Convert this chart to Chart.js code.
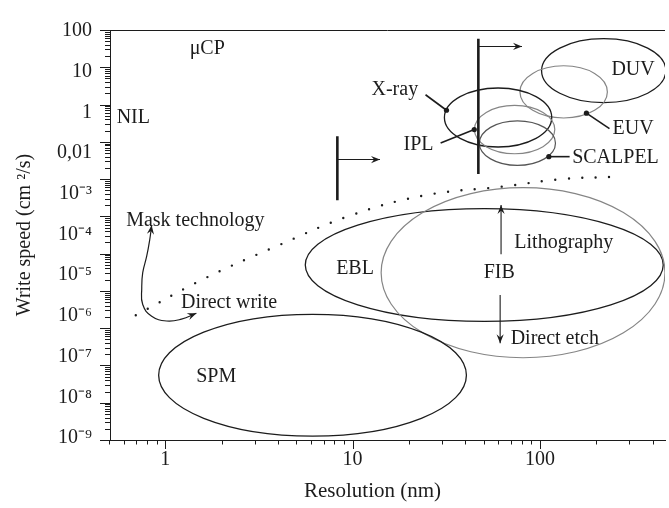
<!DOCTYPE html>
<html>
<head>
<meta charset="utf-8">
<script src="https://cdn.jsdelivr.net/npm/chart.js@4.4.1/dist/chart.umd.min.js"></script>
<style>
html,body{margin:0;padding:0;background:#fff;}
#wrap{position:relative;width:669px;height:508px;}
</style>
</head>
<body>
<div id="wrap"><canvas id="chart"></canvas></div>
<script>
// ---------- axes ----------
const xRange = [0.507, 465];          // Resolution (nm)
const yRange = [1e-9, 100];           // Write speed (cm²/s)
const xTickValues = [1, 10, 100];
const xTickLabels = ['1', '10', '100'];
// the printed labels sit at evenly spaced heights in the original figure
const yTickValues = [94.2, 7.62, 0.616, 0.0498, 4.03e-3, 3.26e-4, 2.64e-5, 2.13e-6, 1.73e-7, 1.40e-8, 1.13e-9];
const yTickLabels = ['100', '10', '1', '0,01', '10⁻³', '10⁻⁴', '10⁻⁵', '10⁻⁶', '10⁻⁷', '10⁻⁸', '10⁻⁹'];

// ---------- technology regions (bounding boxes: nm, cm²/s) ----------
const regionNames = ['DUV', 'EUV', 'X-ray', 'IPL', 'SCALPEL', 'EBL', 'FIB', 'SPM'];
const regionXMin = [102, 78.2, 30.9, 44.7, 47.5, 5.59, 14.2, 0.922];
const regionXMax = [470, 229, 115.6, 120, 121, 455, 465, 40.5];
const regionYMin = [1.13, 0.436, 0.0726, 0.0479, 0.0233, 1.53e-6, 1.61e-7, 1.27e-9];
const regionYMax = [58.4, 10.97, 2.78, 0.948, 0.365, 1.62e-3, 5.91e-3, 2.36e-6];
const regionShade = ['black', 'gray', 'black', 'gray', 'dark', 'black', 'gray', 'black'];

// ---------- dotted boundary: mask technology / direct write ----------
const boundaryX = [0.696, 1.62, 3.99, 9.71, 24.3, 62.8, 134, 240];
const boundaryY = [2.23e-6, 2.15e-5, 1.64e-4, 1.05e-3, 3.67e-3, 6.28e-3, 0.0101, 0.0114];

// ---------- curved double arrow ----------
const curveX = [0.846, 0.826, 0.796, 0.758, 0.749, 0.758, 0.846, 1.016, 1.22, 1.466];
const curveY = [5.75e-4, 2.35e-4, 8.51e-5, 3.08e-5, 1.19e-5, 4.30e-6, 2.10e-6, 1.56e-6, 1.75e-6, 2.51e-6];

// ---------- resolution limits (thick bars) and their arrows ----------
const limitX = [46.9, 8.29];
const limitYTop = [58.5, 0.140];
const limitYBottom = [0.01365, 2.72e-3];
const limitArrowY = [36.2, 0.0334];
const limitArrowToX = [80.2, 14.0];

// ---------- FIB arrows ----------
const fibArrowX = [62, 61.3];
const fibArrowFromY = [9.6e-5, 7.8e-6];
const fibArrowToY = [2.02e-3, 3.94e-7];

// ---------- leader lines (label end -> region end with dot) ----------
const leaderFromX = [24.5, 29.5, 235, 144];
const leaderFromY = [1.83, 0.0923, 0.226, 0.040];
const leaderToX = [31.7, 44.6, 177, 111.5];
const leaderToY = [0.703, 0.213, 0.588, 0.040];

// ---------- text labels ----------
const labelTexts = ['μCP', 'NIL', 'Mask technology', 'Direct write', 'X-ray', 'IPL', 'DUV', 'EUV', 'SCALPEL', 'EBL', 'FIB', 'Lithography', 'Direct etch', 'SPM'];
const labelX = [1.675, 0.675, 1.447, 2.19, 16.8, 22.5, 314, 314, 253, 10.3, 60.6, 134, 120, 1.87];
const labelY = [32.2, 0.436, 7.76e-4, 4.84e-6, 2.46, 0.0818, 8.64, 0.226, 0.0377, 3.92e-5, 3.08e-5, 1.96e-4, 5.31e-7, 4.87e-8];

const INK = '#1c1c1c';
const shadeColor = {black: '#1c1c1c', gray: '#858585', dark: '#555555'};
const FONT = '"Liberation Serif", "Times New Roman", serif';
const X_TITLE_SHIFT = -15;

const pts = (xs, ys) => xs.map((x, i) => ({x, y: ys[i]}));
const datasets = [];
datasets.push({label: 'boundary', data: pts(boundaryX, boundaryY), borderColor: INK, borderWidth: 2.4,
  borderDash: [0, 13.5], borderCapStyle: 'round', tension: 0.4, pointRadius: 0});
datasets.push({label: 'curve', data: pts(curveX, curveY), borderColor: INK, borderWidth: 1.2,
  tension: 0.45, pointRadius: 0, arrowStart: true, arrowEnd: true});
limitX.forEach((lx, i) => {
  datasets.push({label: 'limit' + i, data: [{x: lx, y: limitYTop[i]}, {x: lx, y: limitYBottom[i]}],
    borderColor: INK, borderWidth: 2.6, pointRadius: 0, tension: 0});
  datasets.push({label: 'limitArrow' + i, data: [{x: lx, y: limitArrowY[i]}, {x: limitArrowToX[i], y: limitArrowY[i]}],
    borderColor: INK, borderWidth: 1.1, pointRadius: 0, tension: 0, arrowEnd: true});
});
fibArrowX.forEach((fx, i) => {
  datasets.push({label: 'fibArrow' + i, data: [{x: fx, y: fibArrowFromY[i]}, {x: fx, y: fibArrowToY[i]}],
    borderColor: INK, borderWidth: 1.1, pointRadius: 0, tension: 0, arrowEnd: true});
});
leaderFromX.forEach((lx, i) => {
  datasets.push({label: 'leader' + i, data: [{x: lx, y: leaderFromY[i]}, {x: leaderToX[i], y: leaderToY[i]}],
    borderColor: INK, borderWidth: 1.6, pointRadius: [0, 2.6], pointBackgroundColor: INK,
    pointBorderWidth: 0, tension: 0});
});

function arrowHead(ctx, x, y, fx, fy, len, half) {
  const a = Math.atan2(y - fy, x - fx);
  const c = Math.cos(a), s = Math.sin(a);
  ctx.beginPath();
  ctx.moveTo(x, y);
  ctx.lineTo(x - len * c + half * s, y - len * s - half * c);
  ctx.lineTo(x - 0.65 * len * c, y - 0.65 * len * s);
  ctx.lineTo(x - len * c - half * s, y - len * s + half * c);
  ctx.closePath();
  ctx.fill();
}

const decor = {
  id: 'decor',
  beforeDatasetsDraw(chart) {
    const {ctx, chartArea: a, scales: {x, y}} = chart;
    ctx.save();
    ctx.beginPath(); ctx.rect(a.left, a.top, a.right - a.left, a.bottom - a.top); ctx.clip();
    regionNames.forEach((name, i) => {
      const x1 = x.getPixelForValue(regionXMin[i]), x2 = x.getPixelForValue(regionXMax[i]);
      const y1 = y.getPixelForValue(regionYMin[i]), y2 = y.getPixelForValue(regionYMax[i]);
      ctx.beginPath();
      ctx.ellipse((x1 + x2) / 2, (y1 + y2) / 2, Math.abs(x2 - x1) / 2, Math.abs(y2 - y1) / 2, 0, 0, Math.PI * 2);
      ctx.strokeStyle = shadeColor[regionShade[i]];
      ctx.lineWidth = regionShade[i] === 'black' ? 1.3 : 1.2;
      ctx.stroke();
    });
    ctx.restore();
  },
  afterDatasetsDraw(chart) {
    const {ctx, scales: {x, y}} = chart;
    ctx.save();
    ctx.fillStyle = INK;
    chart.data.datasets.forEach((ds, di) => {
      const els = chart.getDatasetMeta(di).data;
      if (els.length < 2) return;
      if (ds.arrowEnd) {
        const p = els[els.length - 1], q = els[els.length - 2];
        let fx = p.cp1x, fy = p.cp1y;
        if (fx === undefined || (Math.abs(fx - p.x) < 0.5 && Math.abs(fy - p.y) < 0.5)) { fx = q.x; fy = q.y; }
        arrowHead(ctx, p.x, p.y, fx, fy, 9, 3.6);
      }
      if (ds.arrowStart) {
        const p = els[0], q = els[1];
        let fx = p.cp2x, fy = p.cp2y;
        if (fx === undefined || (Math.abs(fx - p.x) < 0.5 && Math.abs(fy - p.y) < 0.5)) { fx = q.x; fy = q.y; }
        arrowHead(ctx, p.x, p.y, fx, fy, 9, 3.6);
      }
    });
    ctx.font = '20px ' + FONT;
    ctx.textAlign = 'center';
    ctx.textBaseline = 'middle';
    labelTexts.forEach((t, i) => {
      ctx.fillText(t, x.getPixelForValue(labelX[i]), y.getPixelForValue(labelY[i]));
    });
    ctx.restore();
  },
  afterDraw(chart) {
    const {ctx, chartArea: a, scales: {x, y}} = chart;
    ctx.save();
    ctx.strokeStyle = INK;
    ctx.lineWidth = 1;
    ctx.beginPath();
    for (let n = -9; n <= 2; n++) {
      for (let k = 1; k <= 9; k++) {
        const v = k * Math.pow(10, n);
        if (v > yRange[1] * 1.0001) break;
        const py = Math.round(y.getPixelForValue(v)) + 0.5;
        const len = k === 1 ? 10 : 5;
        ctx.moveTo(a.left - len, py); ctx.lineTo(a.left, py);
      }
    }
    for (let n = -1; n <= 2; n++) {
      for (let k = 1; k <= 9; k++) {
        const v = k * Math.pow(10, n);
        if (v < xRange[0] * 0.98 || v > xRange[1]) continue;
        const px = Math.round(x.getPixelForValue(v)) + 0.5;
        const len = k === 1 ? 9 : 4.5;
        ctx.moveTo(px, a.bottom); ctx.lineTo(px, a.bottom + len);
      }
    }
    ctx.moveTo(a.left, Math.round(a.top) + 0.5); ctx.lineTo(a.right, Math.round(a.top) + 0.5);
    ctx.stroke();
    ctx.restore();
  }
};

new Chart(document.getElementById('chart'), {
  type: 'line',
  data: {datasets},
  plugins: [decor],
  options: {
    responsive: true,
    maintainAspectRatio: false,
    animation: false,
    layout: {padding: {top: 16, right: 0, bottom: 0, left: 0}},
    plugins: {legend: {display: false}, tooltip: {enabled: false}},
    scales: {
      x: {
        type: 'logarithmic', min: xRange[0], max: xRange[1],
        afterFit(s) {
          s.height = 68;
          if (!s._titleShifted) {
            const orig = s.drawTitle;
            s.drawTitle = function () {
              this.ctx.save(); this.ctx.translate(X_TITLE_SHIFT, 0);
              orig.call(this);
              this.ctx.restore();
            };
            s._titleShifted = true;
          }
        },
        afterBuildTicks(s) { s.ticks = xTickValues.map(v => ({value: v})); },
        grid: {display: true, drawOnChartArea: false, drawTicks: false},
        border: {display: true, color: INK, width: 1},
        ticks: {autoSkip: false, maxRotation: 0, padding: 8, color: INK,
          font: {family: FONT, size: 20}, callback: (v, i) => xTickLabels[i]},
        title: {display: true, text: 'Resolution (nm)', color: INK,
          font: {family: FONT, size: 21}, padding: {top: 0, bottom: 4}}
      },
      y: {
        type: 'logarithmic', min: yRange[0], max: yRange[1],
        afterFit(s) { s.width = 110; },
        afterBuildTicks(s) { s.ticks = yTickValues.map(v => ({value: v})); },
        grid: {display: true, drawOnChartArea: false, drawTicks: false},
        border: {display: true, color: INK, width: 1},
        ticks: {autoSkip: false, padding: 18, color: INK,
          font: {family: FONT, size: 20}, callback: (v, i) => yTickLabels[i]},
        title: {display: true, text: 'Write speed (cm ²/s)', color: INK,
          font: {family: FONT, size: 20}, padding: {top: 13, bottom: 0}}
      }
    }
  }
});
</script>
</body>
</html>
